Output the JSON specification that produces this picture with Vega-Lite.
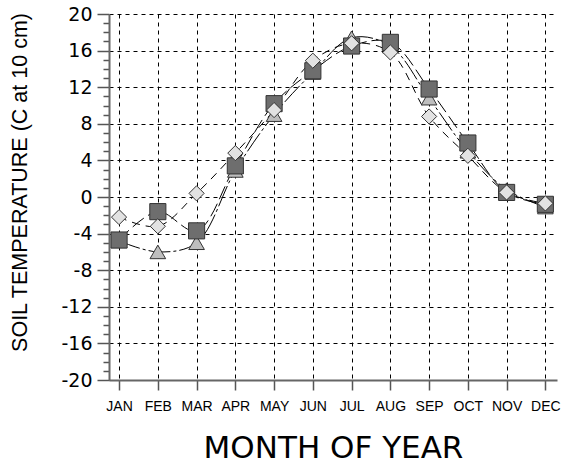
{
  "$schema": "https://vega.github.io/schema/vega-lite/v6.json",
  "width": 448,
  "height": 366,
  "autosize": {"type": "none"},
  "padding": {"left": 109, "top": 14, "right": 7, "bottom": 84},
  "background": "white",
  "config": {
    "view": {"stroke": null},
    "font": "Liberation Sans"
  },
  "data": {
    "values": [
      {"s": "B", "m": 1, "t": -4.8}, {"s": "B", "m": 2, "t": -6.0}, {"s": "B", "m": 3, "t": -5.0}, {"s": "B", "m": 4, "t": 2.9},
      {"s": "B", "m": 5, "t": 9.0}, {"s": "B", "m": 6, "t": 13.6}, {"s": "B", "m": 7, "t": 17.4}, {"s": "B", "m": 8, "t": 16.5},
      {"s": "B", "m": 9, "t": 10.8}, {"s": "B", "m": 10, "t": 5.0}, {"s": "B", "m": 11, "t": 0.8}, {"s": "B", "m": 12, "t": -1.1},
      {"s": "A", "m": 1, "t": -4.7}, {"s": "A", "m": 2, "t": -1.6}, {"s": "A", "m": 3, "t": -3.7}, {"s": "A", "m": 4, "t": 3.4},
      {"s": "A", "m": 5, "t": 10.2}, {"s": "A", "m": 6, "t": 13.8}, {"s": "A", "m": 7, "t": 16.5}, {"s": "A", "m": 8, "t": 16.9},
      {"s": "A", "m": 9, "t": 11.8}, {"s": "A", "m": 10, "t": 5.9}, {"s": "A", "m": 11, "t": 0.5}, {"s": "A", "m": 12, "t": -0.8},
      {"s": "C", "m": 1, "t": -2.2}, {"s": "C", "m": 2, "t": -3.2}, {"s": "C", "m": 3, "t": 0.4}, {"s": "C", "m": 4, "t": 4.8},
      {"s": "C", "m": 5, "t": 9.5}, {"s": "C", "m": 6, "t": 14.9}, {"s": "C", "m": 7, "t": 16.8}, {"s": "C", "m": 8, "t": 15.8},
      {"s": "C", "m": 9, "t": 8.8}, {"s": "C", "m": 10, "t": 4.5}, {"s": "C", "m": 11, "t": 0.5}, {"s": "C", "m": 12, "t": -0.7}
    ]
  },
  "encoding": {
    "x": {
      "field": "m", "type": "quantitative",
      "scale": {"domain": [0.74, 12.3], "nice": false, "zero": false},
      "axis": {
        "values": [1,2,3,4,5,6,7,8,9,10,11,12],
        "labelExpr": "['JAN','FEB','MAR','APR','MAY','JUN','JUL','AUG','SEP','OCT','NOV','DEC'][datum.value-1]",
        "title": "MONTH OF YEAR",
        "titleFont": "DejaVu Sans", "titleFontSize": 31, "titleFontWeight": "normal", "titleColor": "black",
        "titleBaseline": "alphabetic", "titleY": 77,
        "labelFontSize": 14, "labelColor": "black", "labelPadding": 9, "labelOverlap": false, "labelFlush": false,
        "tickSize": 10, "tickColor": "#555", "tickWidth": 1.5,
        "domainColor": "#666", "domainWidth": 2,
        "grid": true, "gridColor": "black", "gridDash": [4, 4], "gridWidth": 1
      }
    },
    "y": {
      "field": "t", "type": "quantitative",
      "scale": {"domain": [-20, 20], "nice": false},
      "axis": {
        "values": [-20,-19,-18,-17,-16,-15,-14,-13,-12,-11,-10,-9,-8,-7,-6,-5,-4,-3,-2,-1,0,1,2,3,4,5,6,7,8,9,10,11,12,13,14,15,16,17,18,19,20],
        "labelExpr": "datum.value % 4 === 0 ? '' + datum.value : ''",
        "title": "SOIL TEMPERATURE (C at 10 cm)",
        "titleFontSize": 21.5, "titleFontWeight": "normal", "titleColor": "black",
        "titleAngle": -90, "titleBaseline": "middle", "titleAlign": "center", "titleX": -89, "titleY": 168,
        "labelFont": "DejaVu Sans", "labelFontSize": 19, "labelColor": "black", "labelPadding": 5, "labelOverlap": false, "labelFlush": false,
        "tickSize": {"condition": {"test": "datum.value % 4 === 0", "value": 12}, "value": 6},
        "tickColor": "#555", "tickWidth": 1.5,
        "domainColor": "#666", "domainWidth": 2,
        "grid": true, "gridColor": "black", "gridDash": [4, 4], "gridWidth": 1,
        "gridOpacity": {"condition": {"test": "datum.value % 4 === 0", "value": 1}, "value": 0}
      }
    }
  },
  "layer": [
    {
      "mark": {"type": "line", "interpolate": "catmull-rom", "color": "black", "strokeWidth": 1},
      "encoding": {
        "detail": {"field": "s"},
        "strokeDash": {
          "field": "s", "type": "nominal",
          "scale": {"domain": ["A", "B", "C"], "range": [[14, 5], [22, 3, 3, 3], [8, 6]]},
          "legend": null
        }
      }
    },
    {
      "mark": {"type": "point", "filled": true, "opacity": 1, "strokeWidth": 1, "stroke": "#333"},
      "encoding": {
        "shape": {
          "field": "s", "type": "nominal",
          "scale": {"domain": ["A", "B", "C"], "range": ["square", "triangle-up", "diamond"]},
          "legend": null
        },
        "fill": {
          "field": "s", "type": "nominal",
          "scale": {"domain": ["A", "B", "C"], "range": ["#6e6e6e", "#bebebe", "#e2e2e2"]},
          "legend": null
        },
        "size": {
          "field": "s", "type": "nominal",
          "scale": {"domain": ["A", "B", "C"], "range": [260, 230, 210]},
          "legend": null
        }
      }
    }
  ]
}
